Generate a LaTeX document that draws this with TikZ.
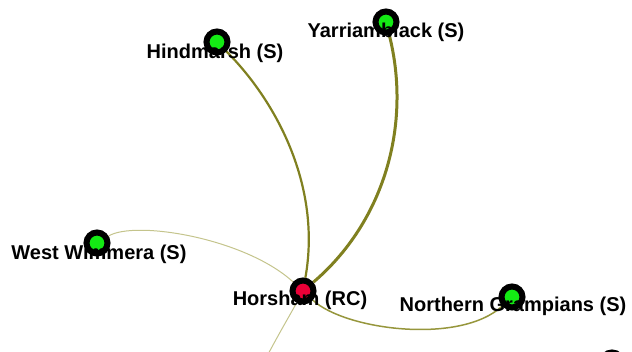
\documentclass[tikz,border=0pt]{standalone}
\usepackage{fontspec}
\setmainfont{Liberation Sans}
\usetikzlibrary{backgrounds}
\definecolor{olivedark}{RGB}{128,128,32}
\definecolor{olivemid}{RGB}{150,150,60}
\definecolor{olivelight}{RGB}{196,196,140}
\definecolor{vgreen}{RGB}{20,235,20}
\definecolor{vred}{RGB}{235,0,55}
\tikzset{
  vert/.style={circle, draw=black, line width=6pt, minimum size=21pt, inner sep=0pt},
  lbl/.style={anchor=base, inner sep=0pt, font=\bfseries\fontsize{20}{20}\selectfont},
  edgeA/.style={draw=olivedark, line width=2.2pt},
  edgeB/.style={draw=olivedark, line width=3pt},
  edgeC/.style={draw=olivemid, line width=1.5pt},
  edgeD/.style={draw=olivelight, line width=1pt}
}
\begin{document}
\begin{tikzpicture}[x=1pt,y=-1pt]
\useasboundingbox (0,0) rectangle (632,352);
\clip (0,0) rectangle (632,352);
% vertices
\node[vert, fill=vred]   (hor)  at (303,291) {};
\node[vert, fill=vgreen] (hind) at (217,42) {};
\node[vert, fill=vgreen] (yarr) at (386,22) {};
\node[vert, fill=vgreen] (ww)   at (97,243) {};
\node[vert, fill=vgreen] (ng)   at (512,297) {};
\node[vert, fill=vgreen] (offr) at (612,363) {};
\coordinate (offb) at (264,362);
% edges
\begin{scope}[on background layer]
\draw[edgeA] (hind) .. controls (275,100) and (322,185) .. (hor);
\draw[edgeB] (yarr) .. controls (412,125) and (384,222) .. (hor);
\draw[edgeD] (ww) .. controls (135,220) and (245,238) .. (hor);
\draw[edgeC] (hor) .. controls (345,330) and (460,345) .. (ng);
\draw[edgeD] (hor) .. controls (290,315) and (278,335) .. (offb);
\end{scope}
% labels
\node[lbl] (lhind) at (215,59) {Hindmarsh (S)};
\node[lbl] (lyarr) at (386,38) {Yarriambiack (S)};
\node[lbl] (lww)   at (99,260) {West Wimmera (S)};
\node[lbl] (lhor)  at (300,306) {Horsham (RC)};
\node[lbl] (lng)   at (513,312) {Northern Grampians (S)};
\end{tikzpicture}
\end{document}
